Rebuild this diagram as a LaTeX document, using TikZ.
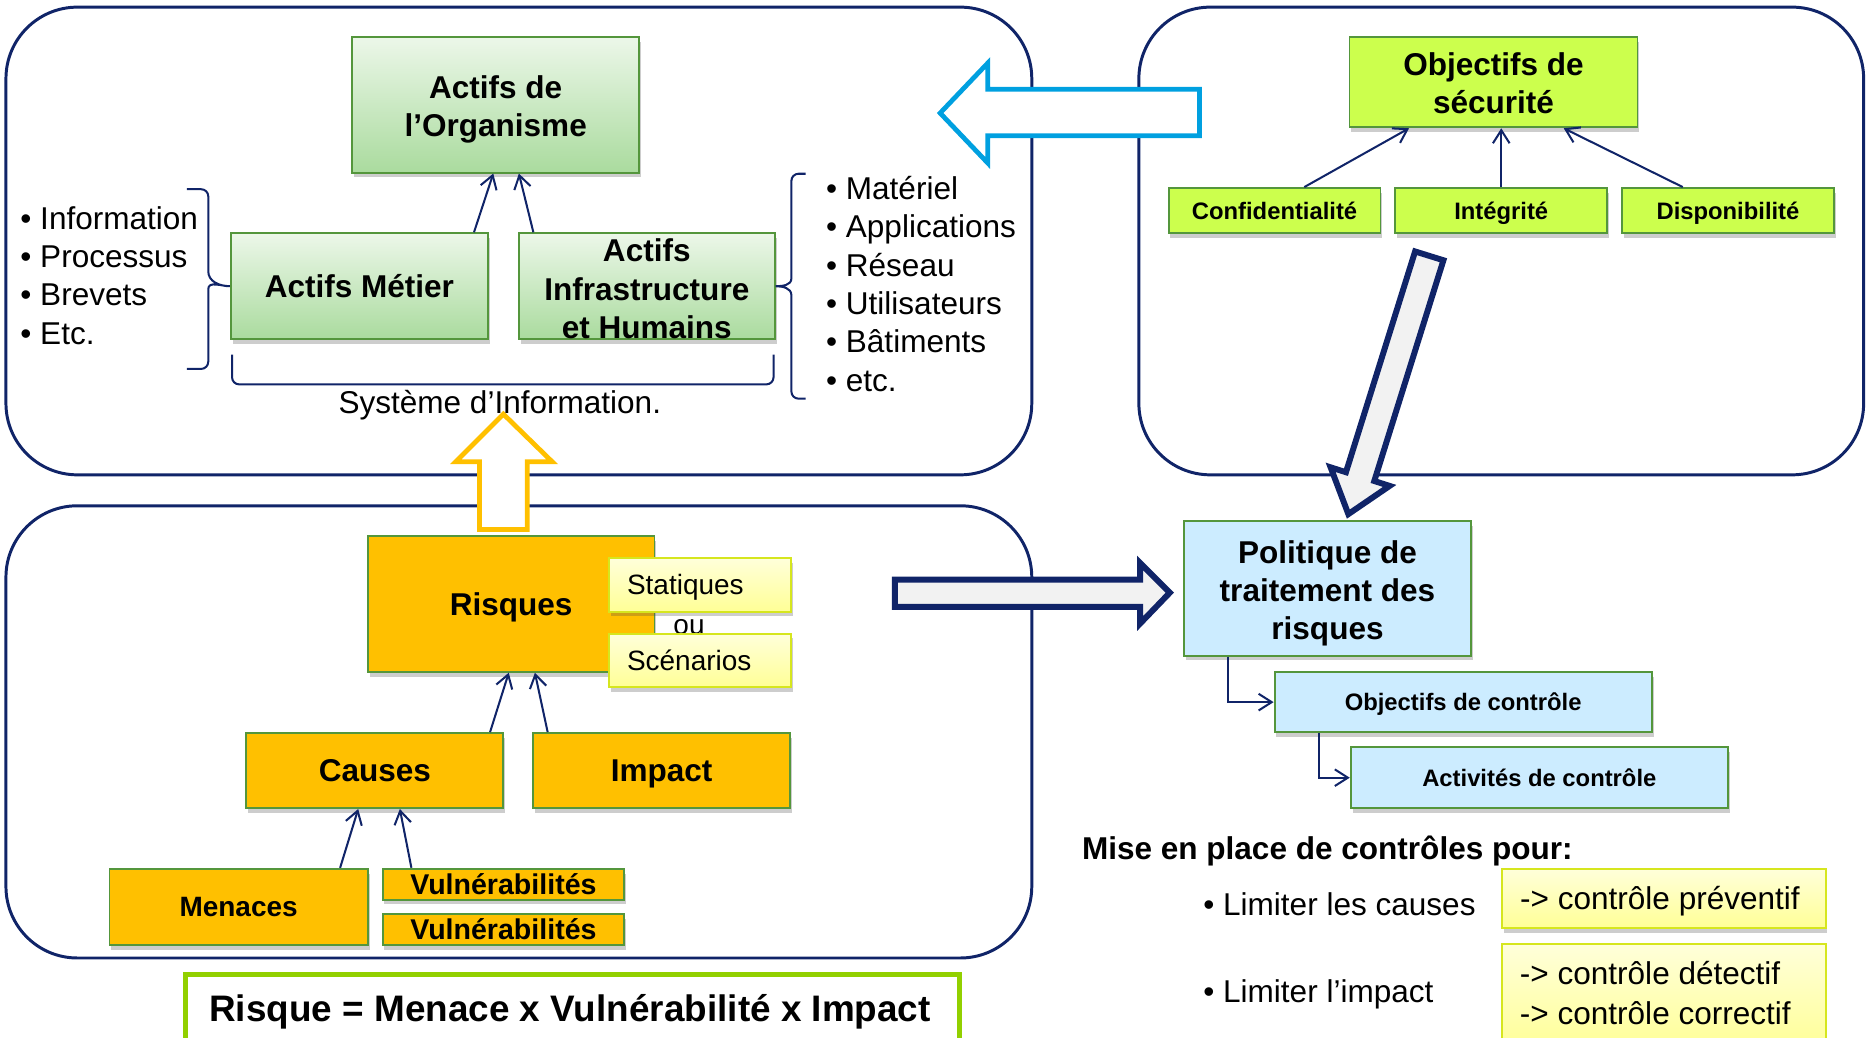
\documentclass[tikz,border=0pt]{standalone}
\usepackage{fontspec}
\setmainfont{Liberation Sans}
\usetikzlibrary{arrows.meta,shadows,calc}

\definecolor{navy}{RGB}{16,36,104}
\definecolor{boxgreen}{RGB}{84,150,60}
\definecolor{mintA}{RGB}{236,247,233}
\definecolor{mintB}{RGB}{170,219,158}
\definecolor{lime}{RGB}{204,255,77}
\definecolor{amber}{RGB}{255,192,0}
\definecolor{sky}{RGB}{204,236,255}
\definecolor{creamA}{RGB}{255,255,218}
\definecolor{creamB}{RGB}{255,255,150}
\definecolor{creamedge}{RGB}{214,230,30}
\definecolor{cyanarrow}{RGB}{0,160,224}
\definecolor{formulagreen}{RGB}{146,208,0}
\definecolor{arrowgray}{RGB}{242,242,242}

\newcommand\bigtxt{\fontsize{26.5}{32.3}\selectfont}
\newcommand\midtxt{\fontsize{23.5}{28}\selectfont}
\newcommand\smalltxt{\fontsize{20}{24}\selectfont}
\newcommand\formtxt{\fontsize{31}{37}\selectfont}
% invisible strut that sets the height of the first line of a multi-line label
\newcommand\firstline[1]{\rule{0pt}{#1}}

\tikzset{
  panel/.style={draw=navy, line width=2.5pt, rounded corners=60pt},
  boxbase/.style={draw=boxgreen, line width=1.6pt, inner sep=0pt, align=center,
    drop shadow={shadow xshift=1.5pt, shadow yshift=-4pt, opacity=0.28, fill=black!70}},
  mintbox/.style={boxbase, top color=mintA, bottom color=mintB, font=\bigtxt\bfseries},
  limebox/.style={boxbase, fill=lime},
  amberbox/.style={boxbase, fill=amber},
  skybox/.style={boxbase, fill=sky},
  creambox/.style={boxbase, draw=creamedge, top color=creamA, bottom color=creamB},
  txt/.style={inner sep=0pt, align=left},
  % single-line labels: centre on the middle of the capitals
  capB/.style={text height=19pt, text depth=0pt},
  capM/.style={text height=16.9pt, text depth=0pt},
  capS/.style={text height=14.4pt, text depth=0pt},
  capV/.style={text height=17.3pt, text depth=0pt},
  capF/.style={text height=22.3pt, text depth=0pt},
  conn/.style={draw=navy, line width=1.7pt,
    -{Straight Barb[length=11pt, width=14pt, line width=1.7pt]}},
  brace/.style={draw=navy, line width=1.7pt},
  blockarrow/.style={line width=4pt, line join=miter, fill=white},
}

\begin{document}
\begin{tikzpicture}[x=1pt, y=-1pt]
\clip (0,0) rectangle (1568,872);

% the three framed areas
\draw[panel] (5,6) rectangle (867,399);
\draw[panel] (957,6) rectangle (1566,399);
\draw[panel] (5,425) rectangle (867,805);

% large block arrows between the areas
\draw[blockarrow, draw=cyanarrow]
  (790,95) -- (830,53) -- (830,75) -- (1008,75) -- (1008,114) -- (830,114) -- (830,137) -- cycle;
\draw[blockarrow, draw=amber]
  (423,348) -- (464,388) -- (443,388) -- (443,445) -- (403,445) -- (403,388) -- (383,388) -- cycle;
\draw[blockarrow, draw=navy, line width=5pt, fill=arrowgray]
  (752,487) -- (958,487) -- (958,473) -- (983,498) -- (958,524) -- (958,510) -- (752,510) -- cycle;
\draw[blockarrow, draw=navy, line width=5pt, fill=arrowgray]
  (1189.1,211.3) -- (1131,396.8) -- (1118.1,392.7) -- (1133,432) -- (1167.7,408.3)
  -- (1154.8,404.2) -- (1212.9,218.7) -- cycle;

% assets
\node[mintbox, minimum width=241pt, minimum height=114pt] (org) at (416.5,88) {\firstline{27pt}Actifs de\\l’Organisme};
\node[mintbox, capB, minimum width=216pt, minimum height=89pt] (metier) at (302,240.5) {Actifs Métier};
\node[mintbox, minimum width=215pt, minimum height=89pt] (infra) at (543.5,240.5) {\firstline{23.5pt}Actifs\\Infrastructure\\et Humains};

\draw[conn] ([xshift=-12.5pt]metier.north east) -- ([xshift=-2pt]org.south);
\draw[conn] ([xshift=13pt]infra.north west) -- ([xshift=19.5pt]org.south);

\node[txt, anchor=west, font=\bigtxt] (blist) at (17,231.5)
  {• Information\\• Processus\\• Brevets\\• Etc.};
\node[txt, anchor=west, font=\bigtxt] (ilist) at (694,238.5)
  {• Matériel\\• Applications\\• Réseau\\• Utilisateurs\\• Bâtiments\\• etc.};

\draw[brace] (157,159) -- (169,159) to[out=0,in=90] (175,165) -- (175,228)
  to[out=-90,in=180] (metier.west) to[out=180,in=90] (175,243) -- (175,304)
  to[out=-90,in=0] (169,310) -- (157,310);
\draw[brace] (677,146) -- (671,146) to[out=180,in=90] (665,152) -- (665,234)
  to[out=-90,in=0] (infra.east) to[out=0,in=90] (665,248) -- (665,329)
  to[out=-90,in=180] (671,335) -- (677,335);
\draw[brace] (195,298) -- (195,317) to[out=-90,in=180] (201,323) -- (644,323)
  to[out=0,in=-90] (650,317) -- (650,298);
\node[txt, capB, font=\bigtxt] (si) at (420,338) {Système d’Information.};

% security objectives
\node[limebox, minimum width=242pt, minimum height=76pt, font=\bigtxt\bfseries] (secobj) at (1255,69) {\firstline{21.5pt}Objectifs de\\sécurité};
\node[limebox, capS, minimum width=178pt, minimum height=38pt, font=\smalltxt\bfseries] (conf) at (1071,177) {Confidentialité};
\node[limebox, capS, minimum width=178pt, minimum height=38pt, font=\smalltxt\bfseries] (integ) at (1261.5,177) {Intégrité};
\node[limebox, capS, minimum width=178pt, minimum height=38pt, font=\smalltxt\bfseries] (dispo) at (1452,177) {Disponibilité};

\draw[conn] ([xshift=25pt]conf.north) -- ([xshift=-71pt]secobj.south);
\draw[conn] (integ.north) -- (integ.north |- secobj.south);
\draw[conn] ([xshift=-38pt]dispo.north) -- ([xshift=59pt]secobj.south);

% risks
\node[amberbox, capB, minimum width=241pt, minimum height=114pt, font=\bigtxt\bfseries] (risques) at (429.5,507.5) {Risques};
\node[txt, capM, font=\midtxt] (ou) at (579,525) {ou};
\node[creambox, minimum width=153pt, minimum height=45pt] (stat) at (588,491.5) {};
\node[txt, capM, anchor=west, font=\midtxt] (stattxt) at ([xshift=16pt]stat.west) {Statiques};
\node[creambox, minimum width=153pt, minimum height=45pt] (scen) at (588,555) {};
\node[txt, capM, anchor=west, font=\midtxt] (scentxt) at ([xshift=16pt]scen.west) {Scénarios};

\node[amberbox, capB, minimum width=216pt, minimum height=63pt, font=\bigtxt\bfseries] (causes) at (315,647.5) {Causes};
\node[amberbox, capB, minimum width=216pt, minimum height=63pt, font=\bigtxt\bfseries] (impact) at (556,647.5) {Impact};
\node[amberbox, capM, minimum width=217pt, minimum height=64pt, font=\midtxt\bfseries] (menaces) at (200.5,762) {Menaces};
\node[amberbox, capV, minimum width=203pt, minimum height=26pt, font=\fontsize{24}{28}\selectfont\bfseries] (vulnA) at (423,743) {Vulnérabilités};
\node[amberbox, capV, minimum width=203pt, minimum height=26pt, font=\fontsize{24}{28}\selectfont\bfseries] (vulnB) at (423,781) {Vulnérabilités};

\draw[conn] ([xshift=-12pt]causes.north east) -- ([xshift=-2pt]risques.south);
\draw[conn] ([xshift=13pt]impact.north west) -- ([xshift=20pt]risques.south);
\draw[conn] ([xshift=-24pt]menaces.north east) -- ([xshift=-14pt]causes.south);
\draw[conn] ([xshift=25pt]vulnA.north west) -- ([xshift=21pt]causes.south);

\node[draw=formulagreen, line width=4pt, fill=white, minimum width=650pt, minimum height=72pt, inner sep=0pt] (formula) at (481,855) {};
\node[txt, capF, font=\formtxt\bfseries] (formulatxt) at (479,847) {Risque = Menace x Vulnérabilité x Impact};

% treatment
\node[skybox, minimum width=241pt, minimum height=113pt, font=\bigtxt\bfseries] (pol) at (1115.5,494.5) {\firstline{27.3pt}Politique de\\traitement des\\risques};
\node[skybox, capS, minimum width=317pt, minimum height=50pt, font=\smalltxt\bfseries] (objc) at (1229.5,590) {Objectifs de contrôle};
\node[skybox, capS, minimum width=317pt, minimum height=51pt, font=\smalltxt\bfseries] (activ) at (1293.5,653.5) {Activités de contrôle};

\draw[conn] ([xshift=38pt]pol.south west) |- (objc.west);
\draw[conn] ([xshift=38pt]objc.south west) |- (activ.west);

\node[txt, capB, anchor=west, font=\bigtxt\bfseries] (mise) at (909,713) {Mise en place de contrôles pour:};
\node[txt, capB, anchor=west, font=\bigtxt] (limA) at (1011,760) {• Limiter les causes};
\node[txt, capB, anchor=west, font=\bigtxt] (limB) at (1011,833) {• Limiter l’impact};

\node[creambox, minimum width=272pt, minimum height=50pt] (prev) at (1398,755) {};
\node[txt, capB, anchor=west, font=\bigtxt] (prevtxt) at ([xshift=16pt]prev.west) {-> contrôle préventif};
\node[creambox, minimum width=272pt, minimum height=90pt] (detcor) at (1398,838) {};
\node[txt, anchor=west, font=\fontsize{26.5}{33}\selectfont] (detcortxt) at (1277,834.5) {-> contrôle détectif\\-> contrôle correctif};

\end{tikzpicture}
\end{document}
